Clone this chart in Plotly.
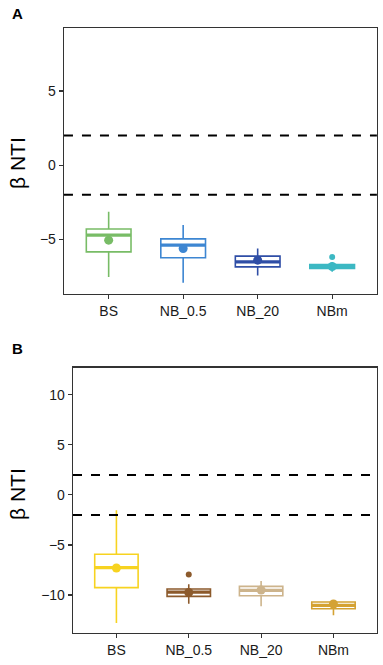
import plotly.graph_objects as go

categories = ["BS", "NB_0.5", "NB_20", "NBm"]
thresholds = [2, -2]

# Panel A
a_colors = ["#78BC66", "#3D86D2", "#2F4EA6", "#3CB8C3"]
a_upper = [-3.15, -4.05, -5.63, -6.55]
a_q3 = [-4.32, -4.98, -6.15, -6.71]
a_median = [-4.73, -5.40, -6.53, -6.84]
a_q1 = [-5.86, -6.26, -6.87, -6.98]
a_lower = [-7.55, -7.95, -7.45, -7.20]
a_mean = [-5.07, -5.63, -6.42, -6.85]
a_out_x = ["NBm"]
a_out_y = [-6.20]

# Panel B
b_colors = ["#F7D320", "#8C5A2C", "#CDB48C", "#D4A233"]
b_upper = [-1.53, -8.93, -8.60, -10.60]
b_q3 = [-5.93, -9.40, -9.13, -10.70]
b_median = [-7.26, -9.70, -9.53, -11.03]
b_q1 = [-9.26, -10.13, -10.07, -11.37]
b_lower = [-12.80, -10.87, -11.13, -12.03]
b_mean = [-7.30, -9.75, -9.50, -10.90]
b_out_x = ["NB_0.5"]
b_out_y = [-7.96]

BOXW = 0.6
FONT = "Liberation Sans, Arial, sans-serif"

fig = go.Figure()


def add_panel(xa, ya, colors, upper, q3, med, q1, lower, mean, ox, oy):
    for i, c in enumerate(categories):
        fig.add_trace(go.Box(
            x=[i], q1=[q1[i]], median=[med[i]], q3=[q3[i]],
            lowerfence=[lower[i]], upperfence=[upper[i]],
            width=BOXW, fillcolor="white", line=dict(color=colors[i], width=1.6),
            whiskerwidth=0, boxpoints=False, showlegend=False,
            xaxis=xa, yaxis=ya, hoverinfo="skip"))
        fig.add_trace(go.Scatter(
            x=[i - BOXW / 2, i + BOXW / 2], y=[med[i], med[i]], mode="lines",
            line=dict(color=colors[i], width=3.2), showlegend=False,
            xaxis=xa, yaxis=ya, hoverinfo="skip"))
        fig.add_trace(go.Scatter(
            x=[i], y=[mean[i]], mode="markers",
            marker=dict(color=colors[i], size=9), showlegend=False,
            xaxis=xa, yaxis=ya, hoverinfo="skip"))
    for xo, yo in zip(ox, oy):
        i = categories.index(xo)
        fig.add_trace(go.Scatter(
            x=[i], y=[yo], mode="markers",
            marker=dict(color=colors[i], size=6), showlegend=False,
            xaxis=xa, yaxis=ya, hoverinfo="skip"))
    for t in thresholds:
        fig.add_shape(type="line", xref=xa + " domain",
                      x0=0, x1=1, yref=ya, y0=t, y1=t,
                      line=dict(color="black", width=2, dash="dash"))


add_panel("x", "y", a_colors, a_upper, a_q3, a_median, a_q1, a_lower, a_mean, a_out_x, a_out_y)
add_panel("x2", "y2", b_colors, b_upper, b_q3, b_median, b_q1, b_lower, b_mean, b_out_x, b_out_y)

axis_common = dict(showgrid=False, zeroline=False, showline=True, mirror=True,
                   linecolor="#333333", linewidth=1.3, ticks="outside", ticklen=4,
                   tickwidth=1.1, tickcolor="#333333",
                   tickfont=dict(family=FONT, size=14, color="#1a1a1a"))

fig.update_layout(
    width=383, height=665,
    margin=dict(l=0, r=0, t=0, b=0),
    paper_bgcolor="white", plot_bgcolor="white",
    xaxis=dict(domain=[0.167, 0.984], range=[-0.6, 3.6], tickmode="array",
               tickvals=list(range(len(categories))), ticktext=categories,
               anchor="y", **axis_common),
    yaxis=dict(domain=[0.558, 0.958], range=[-8.7, 9.26], tickvals=[-5, 0, 5],
               ticktext=["−5", "0", "5"], anchor="x", **axis_common),
    xaxis2=dict(domain=[0.1906, 0.984], range=[-0.6, 3.6], tickmode="array",
                tickvals=list(range(len(categories))), ticktext=categories,
                anchor="y2", **axis_common),
    yaxis2=dict(domain=[0.048, 0.447], range=[-13.8, 12.7], tickvals=[-10, -5, 0, 5, 10],
                ticktext=["−10", "−5", "0", "5", "10"], anchor="x2", **axis_common),
    annotations=[
        dict(text="<b>A</b>", x=10 / 383, y=1 - 14 / 665, xref="paper", yref="paper",
             showarrow=False, xanchor="left", yanchor="middle",
             font=dict(family=FONT, size=15, color="black")),
        dict(text="<b>B</b>", x=10 / 383, y=1 - 348 / 665, xref="paper", yref="paper",
             showarrow=False, xanchor="left", yanchor="middle",
             font=dict(family=FONT, size=15, color="black")),
        dict(text="β NTI", x=17 / 383, y=1 - 163 / 665, xref="paper", yref="paper",
             showarrow=False, textangle=-90, xanchor="center", yanchor="middle",
             font=dict(family=FONT, size=21, color="black")),
        dict(text="β NTI", x=17 / 383, y=1 - 494 / 665, xref="paper", yref="paper",
             showarrow=False, textangle=-90, xanchor="center", yanchor="middle",
             font=dict(family=FONT, size=21, color="black")),
    ],
)

fig.write_html("out.html", config={"displayModeBar": False, "staticPlot": True},
               post_script="document.body.style.margin='0';")
